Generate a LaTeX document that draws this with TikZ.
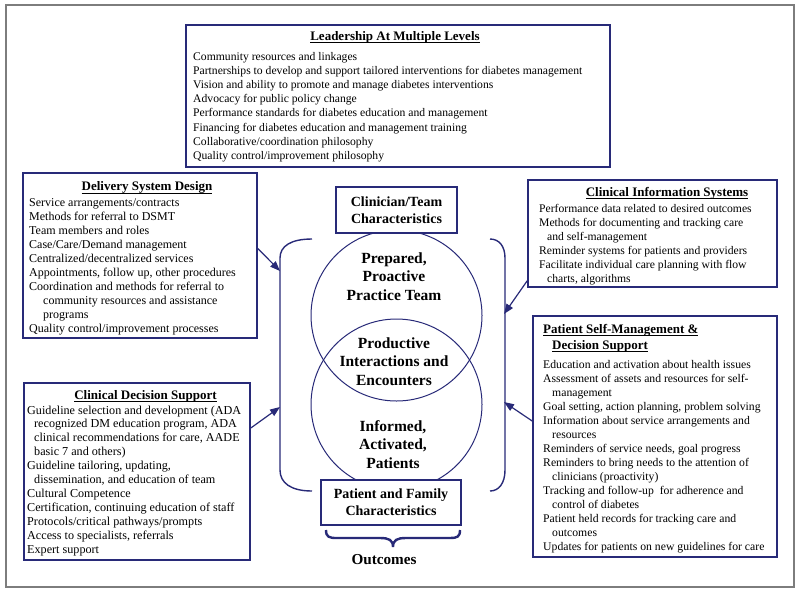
\documentclass[tikz,border=0pt]{standalone}
\usepackage{fontspec}
\setmainfont{Liberation Serif}
\usetikzlibrary{arrows.meta}
\definecolor{navy}{RGB}{40,42,120}
\definecolor{framegray}{RGB}{125,125,125}
\newcommand{\myul}[1]{\setbox0\hbox{#1}\rlap{\rule[-3.2pt]{\wd0}{1.1pt}}\box0}
\begin{document}
\begin{tikzpicture}[x=1pt,y=-1pt,
  sidebox/.style={draw=navy,line width=1.6pt,fill=white,inner sep=0pt},
  midbox/.style={draw=navy,line width=1.1pt,fill=white,inner sep=0pt,align=center,font=\fontsize{14}{17.3}\selectfont\bfseries},
  body/.style={inner sep=0pt,anchor=base west,align=left,font=\fontsize{12}{14}\selectfont},
  head/.style={inner sep=0pt,anchor=base,font=\fontsize{13}{15}\selectfont\bfseries},
  headw/.style={inner sep=0pt,anchor=base west,font=\fontsize{13}{15}\selectfont\bfseries},
  ring/.style={draw=navy,line width=1pt,circle,inner sep=0pt,minimum size=171pt},
  fbloop/.style={draw=navy,line width=1.4pt},
  feed/.style={draw=navy,line width=1.2pt,-{Triangle[length=10pt,width=7.5pt]}},
  big/.style={inner sep=0pt,anchor=base,align=center,font=\fontsize{15.5}{18.5}\selectfont\bfseries},
]
\fill[white] (0,0) rectangle (800,590);
\useasboundingbox (0,0) rectangle (800,590);
\draw[framegray,line width=1.2pt] (6,5) rectangle (794,587);

% circles
\node[ring] (team) at (396.5,315.5) {};
\node[ring] (pat) at (396.5,404.5) {};

% side boxes
\node[sidebox,minimum width=424pt,minimum height=142pt] (lead) at (398,96) {};
\node[sidebox,minimum width=234pt,minimum height=165pt] (deliv) at (140,255.5) {};
\node[sidebox,minimum width=249pt,minimum height=107pt] (cis) at (652.5,233.5) {};
\node[sidebox,minimum width=226pt,minimum height=177pt] (cds) at (137,471.5) {};
\node[sidebox,minimum width=244pt,minimum height=241pt] (psm) at (655,436.5) {};

% center boxes
\node[midbox,minimum width=121pt,minimum height=46pt] (teambox) at (396.5,210) {Clinician/Team\\Characteristics};
\node[midbox,minimum width=140pt,minimum height=45pt] (patbox) at (391,502.5) {Patient and Family\\Characteristics};

% circle texts (anchored on the baseline of their last line)
\node[big] (prep) at (394,300) {Prepared,\\Proactive\\Practice Team};
\node[big] (prod) at (394,385) {Productive\\Interactions and\\Encounters};
\node[big] (inf) at (393,468) {Informed,\\Activated,\\Patients};
\node[big,font=\fontsize{15.2}{18}\selectfont\bfseries] (outc) at (384,564) {Outcomes};

% brace
\draw[navy,line width=2.4pt] (326,530) .. controls (326,537) and (329,538) .. (337,538) -- (380,538) .. controls (389,538) and (393,540) .. (393,547) .. controls (393,540) and (397,538) .. (406,538) -- (450,538) .. controls (457,538) and (460,537) .. (460,530);

% feedback loops
\draw[fbloop] (312,239) .. controls (291,239) and (280,246) .. (280,258) -- (280,470) .. controls (280,483) and (291,491) .. (312,491);
\draw[fbloop] (490,239) .. controls (499,239) and (505,246) .. (505,258) -- (505,470) .. controls (505,483) and (499,491) .. (490,491);

\coordinate (la) at (280,271);
\coordinate (lb) at (280,407);
\coordinate (ra) at (504,314);
\coordinate (rb) at (504,402);
\draw[feed] ([yshift=7pt]deliv.east) -- (la);
\draw[feed] ([yshift=43.5pt]cds.east) -- (lb);
\draw[feed] ([yshift=7pt]cis.south west) -- (ra);
\draw[feed] ([yshift=15.5pt]psm.west) -- (rb);

% Leadership
\node[head] (leadttl) at (395,40) {\myul{Leadership At Multiple Levels}};
\node[body,font=\fontsize{11.65}{14.2}\selectfont] (leadtxt) at (193,159.4) {Community resources and linkages\\
Partnerships to develop and support tailored interventions for diabetes management\\
Vision and ability to promote and manage diabetes interventions\\
Advocacy for public policy change\\
Performance standards for diabetes education and management\\
Financing for diabetes education and management training\\
Collaborative/coordination philosophy\\
Quality control/improvement philosophy};

% Delivery
\node[head] (delivttl) at (147,190.5) {\myul{Delivery System Design}};
\node[body] (delivtxt) at (29,332) {Service arrangements/contracts\\
Methods for referral to DSMT\\
Team members and roles\\
Case/Care/Demand management\\
Centralized/decentralized services\\
Appointments, follow up, other procedures\\
Coordination and methods for referral to\\
\hspace*{14pt}community resources and assistance\\
\hspace*{14pt}programs\\
Quality control/improvement processes};

% CIS
\node[head] (cisttl) at (667,196) {\myul{Clinical Information Systems}};
\node[body,font=\fontsize{11.65}{14}\selectfont] (cistxt) at (539,282) {Performance data related to desired outcomes\\
Methods for documenting and tracking care\\
\hspace*{8pt}and self-management\\
Reminder systems for patients and providers\\
Facilitate individual care planning with flow\\
\hspace*{8pt}charts, algorithms};

% CDS
\node[head] (cdsttl) at (145.5,399) {\myul{Clinical Decision Support}};
\node[body,font=\fontsize{12.15}{13.9}\selectfont] (cdstxt) at (27,553) {Guideline selection and development (ADA\\
\hspace*{7pt}recognized DM education program, ADA\\
\hspace*{7pt}clinical recommendations for care, AADE\\
\hspace*{7pt}basic 7 and others)\\
Guideline tailoring, updating,\\
\hspace*{7pt}dissemination, and education of team\\
Cultural Competence\\
Certification, continuing education of staff\\
Protocols/critical pathways/prompts\\
Access to specialists, referrals\\
Expert support};

% PSM
\node[headw] (psmttl) at (543,333) {\myul{Patient Self-Management \&}};
\node[headw] (psmttlb) at (552,349) {\myul{Decision Support}};
\node[body,font=\fontsize{11.7}{14}\selectfont] (psmtxt) at (543,550) {Education and activation about health issues\\
Assessment of assets and resources for self-\\
\hspace*{9pt}management\\
Goal setting, action planning, problem solving\\
Information about service arrangements and\\
\hspace*{9pt}resources\\
Reminders of service needs, goal progress\\
Reminders to bring needs to the attention of\\
\hspace*{9pt}clinicians (proactivity)\\
Tracking and follow-up\ \ for adherence and\\
\hspace*{9pt}control of diabetes\\
Patient held records for tracking care and\\
\hspace*{9pt}outcomes\\
Updates for patients on new guidelines for care};
\end{tikzpicture}
\end{document}
